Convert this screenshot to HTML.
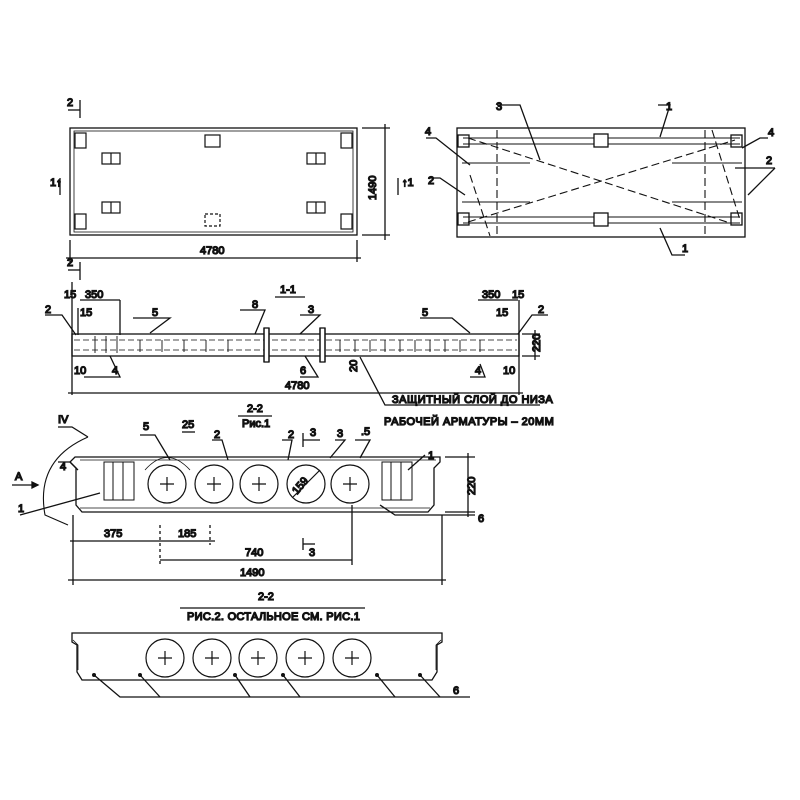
<!DOCTYPE html>
<html><head><meta charset="utf-8"><style>
html,body{margin:0;padding:0;background:#fff}
svg{display:block}
text{font-family:"Liberation Sans","DejaVu Sans",sans-serif;fill:#111;font-size:11px}
</style></head><body>
<svg width="800" height="800" viewBox="0 0 800 800" xmlns="http://www.w3.org/2000/svg" stroke="#111" fill="none" stroke-width="1.3">
<!-- Plan left -->
<rect x="70" y="128" width="287" height="107"/>
<rect x="74" y="131" width="279" height="101" stroke-width="0.8"/>
<g stroke-width="1.2">
<rect x="75" y="133" width="11" height="15"/><rect x="341" y="133" width="11" height="15"/>
<rect x="75" y="214" width="11" height="15"/><rect x="341" y="214" width="11" height="15"/>
<rect x="205" y="135" width="15" height="12"/><rect x="205" y="214" width="15" height="12" stroke-dasharray="3 2"/>
<rect x="102" y="153" width="18" height="11"/><line x1="111" y1="153" x2="111" y2="164"/>
<rect x="102" y="202" width="18" height="11"/><line x1="111" y1="202" x2="111" y2="213"/>
<rect x="307" y="153" width="18" height="11"/><line x1="316" y1="153" x2="316" y2="164"/>
<rect x="307" y="202" width="18" height="11"/><line x1="316" y1="202" x2="316" y2="213"/>
</g>
<line x1="70" y1="240" x2="70" y2="262"/><line x1="357" y1="240" x2="357" y2="262"/>
<line x1="66" y1="258" x2="361" y2="258"/>
<text x="200" y="254">4780</text>
<line x1="362" y1="128" x2="390" y2="128"/><line x1="362" y1="235" x2="390" y2="235"/>
<line x1="385" y1="124" x2="385" y2="240"/>
<text x="0" y="0" transform="translate(376,200) rotate(-90)">1490</text>
<line x1="80" y1="100" x2="80" y2="118"/><line x1="68" y1="110" x2="80" y2="110"/><text x="67" y="106">2</text>
<line x1="60" y1="178" x2="60" y2="195"/><text x="0" y="0" transform="translate(50,186)">1↑</text>
<line x1="398" y1="178" x2="398" y2="195"/><text x="0" y="0" transform="translate(402,186)">↑1</text>
<line x1="80" y1="262" x2="80" y2="280"/><line x1="68" y1="270" x2="80" y2="270"/><text x="67" y="266">2</text>
<!-- Plan right -->
<rect x="457" y="128" width="288" height="109"/>
<g stroke-width="1">
<line x1="463" y1="138" x2="740" y2="138"/><line x1="463" y1="144" x2="740" y2="144"/>
<line x1="463" y1="217" x2="740" y2="217"/><line x1="463" y1="223" x2="740" y2="223"/>
<line x1="462" y1="163" x2="530" y2="163"/><line x1="672" y1="163" x2="742" y2="163"/>
<line x1="462" y1="202" x2="530" y2="202"/><line x1="672" y1="202" x2="742" y2="202"/>
</g>
<rect x="458" y="135" width="11" height="12"/><rect x="731" y="135" width="11" height="12"/>
<rect x="458" y="213" width="11" height="12"/><rect x="731" y="213" width="11" height="12"/>
<rect x="594" y="134" width="14" height="13" fill="#fff"/><rect x="594" y="213" width="14" height="13" fill="#fff"/>
<g stroke-dasharray="8 4" stroke-width="1.1">
<line x1="468" y1="138" x2="730" y2="223"/><line x1="468" y1="222" x2="735" y2="140"/>
<line x1="497" y1="130" x2="497" y2="236"/><line x1="705" y1="130" x2="705" y2="236"/>
<line x1="470" y1="175" x2="490" y2="236"/><line x1="712" y1="130" x2="740" y2="220"/>
</g>
<polyline points="497,105 520,105 540,160"/><text x="496" y="110">3</text>
<polyline points="658,105 670,105 660,137"/><text x="666" y="110">1</text>
<polyline points="685,255 672,255 660,228"/><text x="682" y="252">1</text>
<polyline points="426,138 436,138 470,165"/><text x="425" y="135">4</text>
<polyline points="768,138 760,138 742,148"/><text x="768" y="136">4</text>
<polyline points="428,178 440,178 465,195"/><text x="428" y="184">2</text>
<polyline points="775,168 760,168 735,168"/><polyline points="775,168 748,195"/><text x="766" y="164">2</text>
<!-- Section 1-1 -->
<text x="280" y="293">1-1</text><line x1="275" y1="297" x2="305" y2="297"/>
<rect x="72" y="334" width="447" height="22" stroke-width="1.3"/>
<line x1="74" y1="340" x2="517" y2="340" stroke-dasharray="6 3" stroke-width="0.8"/>
<line x1="74" y1="350" x2="517" y2="350" stroke-dasharray="6 3" stroke-width="0.8"/>
<g stroke-width="0.9">
<line x1="95" y1="336" x2="95" y2="353"/><line x1="106" y1="336" x2="106" y2="353"/><line x1="117" y1="336" x2="117" y2="353"/>
<line x1="140" y1="340" x2="140" y2="352"/><line x1="162" y1="340" x2="162" y2="352"/><line x1="184" y1="340" x2="184" y2="352"/><line x1="206" y1="340" x2="206" y2="352"/><line x1="228" y1="340" x2="228" y2="352"/>
<line x1="340" y1="340" x2="340" y2="352"/><line x1="355" y1="340" x2="355" y2="352"/><line x1="370" y1="340" x2="370" y2="352"/><line x1="385" y1="340" x2="385" y2="352"/><line x1="400" y1="340" x2="400" y2="352"/><line x1="415" y1="340" x2="415" y2="352"/><line x1="430" y1="340" x2="430" y2="352"/><line x1="445" y1="340" x2="445" y2="352"/><line x1="460" y1="340" x2="460" y2="352"/><line x1="480" y1="340" x2="480" y2="352"/>
</g>
<rect x="264" y="328" width="5" height="34" fill="#fff"/><line x1="264" y1="328" x2="264" y2="362"/><line x1="269" y1="328" x2="269" y2="362"/>
<rect x="320" y="328" width="5" height="34" fill="#fff"/><line x1="320" y1="328" x2="320" y2="362"/><line x1="325" y1="328" x2="325" y2="362"/>
<line x1="72" y1="282" x2="72" y2="395"/><line x1="519" y1="300" x2="519" y2="395"/>
<line x1="68" y1="393" x2="523" y2="393"/><text x="285" y="389">4780</text>
<line x1="80" y1="300" x2="120" y2="300"/><line x1="120" y1="300" x2="120" y2="335"/><text x="85" y="298">350</text><text x="64" y="298" font-size="9">15</text>
<text x="80" y="316" font-size="9">15</text><line x1="78" y1="308" x2="78" y2="335"/>
<text x="482" y="298">350</text><text x="512" y="298" font-size="9">15</text><line x1="478" y1="300" x2="518" y2="300"/>
<text x="496" y="316" font-size="9">15</text>
<line x1="522" y1="334" x2="540" y2="334"/><line x1="522" y1="356" x2="540" y2="356"/><line x1="535" y1="330" x2="535" y2="360"/>
<text x="0" y="0" transform="translate(540,352) rotate(-90)">220</text>
<polyline points="45,315 62,315 76,335"/><text x="45" y="313">2</text>
<polyline points="548,315 532,315 518,334"/><text x="538" y="313">2</text>
<polyline points="133,318 170,318 150,333"/><text x="152" y="316">5</text>
<polyline points="420,318 452,318 470,333"/><text x="422" y="316">5</text>
<polyline points="240,310 265,310 255,334"/><text x="252" y="308">8</text>
<polyline points="300,315 320,315 300,334"/><text x="308" y="313">3</text>
<polyline points="300,377 318,377 305,356"/><text x="300" y="374">6</text>
<polyline points="84,377 120,377 110,356"/><text x="112" y="374">4</text><text x="74" y="374" font-size="9">10</text>
<polyline points="470,377 485,377 480,364"/><text x="475" y="374">4</text><text x="503" y="374" font-size="9">10</text>
<text x="0" y="0" transform="translate(357,372) rotate(-90)" font-size="9">20</text>
<polyline points="360,357 385,405 540,405"/>
<text x="392" y="403" font-size="10" letter-spacing="0.5">ЗАЩИТНЫЙ СЛОЙ ДО НИЗА</text>
<text x="384" y="425" font-size="10" letter-spacing="0.5">РАБОЧЕЙ АРМАТУРЫ – 20ММ</text>
<!-- Section 2-2 top -->
<text x="247" y="412" font-size="10">2-2</text><line x1="238" y1="416" x2="272" y2="416"/><text x="242" y="427" font-size="9">Рис.1</text>
<path d="M 88 437 Q 35 460 45 515 L 68 525" stroke-width="1.1"/><polyline points="58,427 72,427 88,437"/><text x="58" y="423" font-size="9">IV</text>
<path d="M 75 457 L 440 457 L 440 462 L 434 468 L 434 505 L 428 512 L 82 512 L 76 505 L 76 468 L 70 462 Z"/>
<line x1="80" y1="460" x2="436" y2="460" stroke-width="0.8"/>
<line x1="80" y1="508" x2="430" y2="508" stroke-width="0.8"/>
<g stroke-width="1">
<rect x="104" y="462" width="30" height="38"/><line x1="113" y1="462" x2="113" y2="500"/><line x1="123" y1="462" x2="123" y2="500"/>
<rect x="382" y="462" width="30" height="38"/><line x1="391" y1="462" x2="391" y2="500"/><line x1="401" y1="462" x2="401" y2="500"/>
</g>
<g stroke-width="1.2">
<circle cx="167" cy="484" r="19"/><circle cx="214" cy="484" r="19"/><circle cx="259" cy="484" r="19"/><circle cx="306" cy="484" r="19"/><circle cx="350" cy="484" r="19"/>
<path d="M 160 484 h 14 M 167 477 v 14 M 207 484 h 14 M 214 477 v 14 M 252 484 h 14 M 259 477 v 14 M 343 484 h 14 M 350 477 v 14"/>
<line x1="293" y1="497" x2="320" y2="470"/>
</g>
<text x="0" y="0" transform="translate(297,495) rotate(-50)" font-size="9">159</text>
<path d="M 145 470 Q 167 445 190 470" stroke-width="0.8"/>
<line x1="73" y1="515" x2="73" y2="585"/><line x1="442" y1="515" x2="442" y2="585"/>
<line x1="68" y1="580" x2="446" y2="580"/><text x="240" y="576">1490</text>
<line x1="160" y1="560" x2="352" y2="560"/><line x1="352" y1="505" x2="352" y2="565"/><text x="245" y="556">740</text>
<line x1="70" y1="541" x2="215" y2="541"/><text x="104" y="537">375</text><text x="178" y="537">185</text>
<line x1="160" y1="525" x2="160" y2="565" stroke-dasharray="3 3"/><line x1="210" y1="525" x2="210" y2="545" stroke-dasharray="3 3"/>
<line x1="445" y1="457" x2="475" y2="457"/><line x1="445" y1="512" x2="475" y2="512"/><line x1="468" y1="453" x2="468" y2="517"/>
<text x="0" y="0" transform="translate(475,495) rotate(-90)">220</text>
<polyline points="475,515 395,515 380,505"/><text x="478" y="522">6</text>
<line x1="20" y1="515" x2="100" y2="493"/><text x="18" y="512">1</text>
<polyline points="58,462 70,462 78,470"/><text x="60" y="470">4</text>
<text x="15" y="480" font-size="10">А</text><line x1="12" y1="485" x2="38" y2="485"/><path d="M 38 485 l -6 -3 v 6 Z" fill="#111"/>
<polyline points="140,435 155,435 170,460"/><text x="143" y="430">5</text>
<text x="182" y="428" font-size="9">25</text><line x1="182" y1="432" x2="195" y2="432"/>
<polyline points="212,440 222,440 228,460"/><text x="214" y="438" font-size="9">2</text>
<polyline points="282,440 292,440 288,460"/><text x="288" y="438" font-size="9">2</text>
<line x1="303" y1="433" x2="303" y2="447"/><line x1="303" y1="440" x2="320" y2="440"/><text x="310" y="436" font-size="9">3</text>
<polyline points="335,440 345,440 330,458"/><text x="337" y="437" font-size="9">3</text>
<polyline points="355,440 370,440 360,458"/><text x="361" y="435" font-size="9">.5</text>
<polyline points="425,455 408,470"/><text x="428" y="459" font-size="9">1</text>
<line x1="303" y1="538" x2="303" y2="550"/><line x1="303" y1="544" x2="315" y2="544"/><text x="309" y="556" font-size="9">3</text>
<!-- Section 2-2 bottom -->
<text x="258" y="600" font-size="10">2-2</text><line x1="180" y1="608" x2="365" y2="608"/>
<text x="187" y="620" font-size="10" letter-spacing="0.3">РИС.2. ОСТАЛЬНОЕ СМ. РИС.1</text>
<path d="M 72 633 L 442 633 L 442 642 L 437 645 L 437 672 L 432 680 L 82 680 L 77 672 L 77 645 L 72 642 Z"/>
<path d="M 73 640 L 78 645 L 78 670 M 441 640 L 436 645 L 436 670" stroke-width="0.8"/>
<g stroke-width="1.2">
<circle cx="165" cy="658" r="19"/><circle cx="212" cy="658" r="19"/><circle cx="258" cy="658" r="19"/><circle cx="305" cy="658" r="19"/><circle cx="352" cy="658" r="19"/>
<path d="M 158 658 h 14 M 165 651 v 14 M 205 658 h 14 M 212 651 v 14 M 251 658 h 14 M 258 651 v 14 M 298 658 h 14 M 305 651 v 14 M 345 658 h 14 M 352 651 v 14"/>
</g>
<g fill="#111" stroke="none"><circle cx="94" cy="675" r="2"/><circle cx="140" cy="675" r="2"/><circle cx="235" cy="675" r="2"/><circle cx="283" cy="675" r="2"/><circle cx="377" cy="675" r="2"/><circle cx="420" cy="675" r="2"/></g>
<polyline points="94,675 120,697 470,697"/><line x1="140" y1="675" x2="160" y2="697"/><line x1="235" y1="675" x2="250" y2="697"/><line x1="283" y1="675" x2="300" y2="697"/><line x1="377" y1="675" x2="395" y2="697"/><line x1="420" y1="675" x2="440" y2="697"/>
<text x="453" y="694">6</text>
</svg>
</body></html>
